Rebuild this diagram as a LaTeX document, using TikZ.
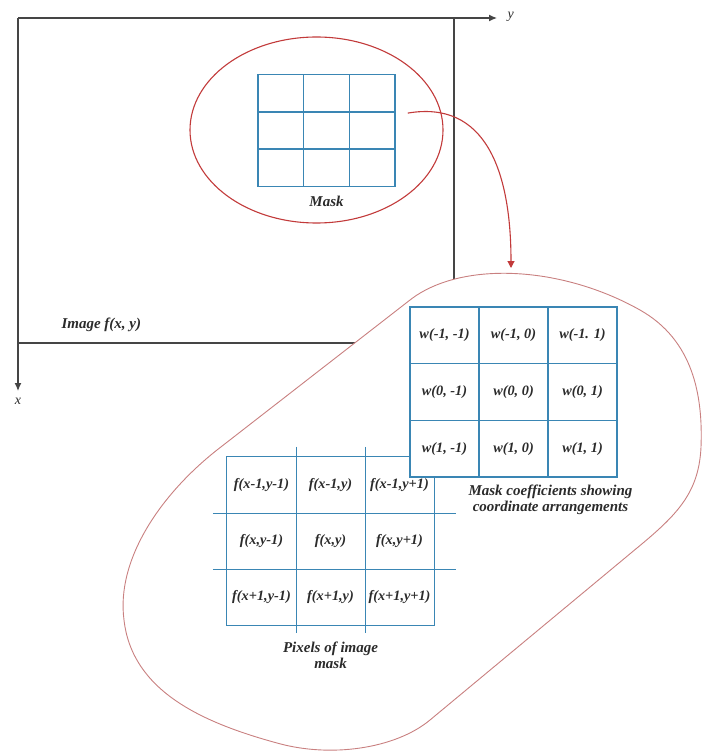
\documentclass[tikz,border=0pt]{standalone}
\usepackage{fontspec}
\setmainfont{Liberation Serif}
\usetikzlibrary{positioning,arrows.meta,shapes.geometric}
\definecolor{mskBlue}{HTML}{3A86B4}
\definecolor{mskRed}{HTML}{C23A3A}
\definecolor{mskZone}{HTML}{C98080}
\definecolor{mskAxis}{HTML}{454545}
\definecolor{mskText}{HTML}{2B2B2B}
\tikzset{
  axisline/.style={draw=mskAxis, line width=1.3pt, -{Latex[length=8pt,width=7pt]}},
  frameline/.style={draw=mskAxis, line width=1.3pt},
  lbl/.style={font=\bfseries\itshape\fontsize{15}{16}\selectfont, text=mskText, align=center},
  celltext/.style={font=\bfseries\itshape\fontsize{14.3}{16}\selectfont, text=mskText},
  wcell/.style={draw=mskBlue, line width=1.3pt, fill=white, minimum width=69pt,
                minimum height=56.7pt, inner sep=0pt, celltext},
  fcell/.style={minimum width=69pt, minimum height=56pt, inner sep=0pt, celltext},
  mcell/.style={draw=mskBlue, line width=1.3pt, minimum width=45.7pt,
                minimum height=37.7pt, inner sep=0pt},
  gridline/.style={draw=mskBlue, line width=1.3pt},
  maskzone/.style={draw=mskRed, line width=1.1pt, ellipse},
  zone/.style={draw=mskZone, line width=0.9pt, fill=white},
  link/.style={draw=mskRed, line width=1.1pt, -{Triangle[length=7pt,width=7pt]}},
}
\begin{document}
\begin{tikzpicture}[x=1pt, y=-1pt]
\useasboundingbox (0,0) rectangle (702,751);

\coordinate (origin) at (18,18);
\coordinate (yend) at (497,18);
\coordinate (xend) at (18,391);
\draw[axisline] (origin) -- (yend);
\draw[axisline] (origin) -- (xend);
\node[lbl, anchor=west, font=\itshape\fontsize{14}{15}\selectfont] (ylabel) at (504,17) {y};
\node[lbl, font=\itshape\fontsize{14}{15}\selectfont] (xlabel) at (18,401) {x};

\draw[frameline] (454,18) -- (454,310);
\draw[frameline] (18,343) -- (390,343);
\node[lbl, anchor=west] (imglabel) at (58,325) {Image f(x, y)};

\node[maskzone, minimum width=253pt, minimum height=186pt] (maskzone) at (316.5,130) {};
\foreach \r in {1,2,3} {
  \foreach \c in {1,2,3} {
    \node[mcell] (m\r\c) at ({258+45.7*(\c-0.5)}, {75+37.2*(\r-0.5)}) {};
  }
}
\node[lbl, below=5pt of m32] (masklabel) {Mask};

\draw[zone] (410,300) .. controls (460,261) and (560,265) .. (640,310)
  .. controls (693,340) and (703,395) .. (701,447)
  .. controls (699,490) and (680,512) .. (643,543)
  -- (430,720)
  .. controls (395,749) and (330,758) .. (277,743)
  .. controls (200,722) and (132,690) .. (124,620)
  .. controls (116,560) and (160,495) .. (217,450)
  -- cycle;

\coordinate (zonetop) at (511,268);
\draw[link] ([xshift=12pt]m13.south east) .. controls (485,100) and (511,170) .. (zonetop);

\foreach \r/\c/\txt in {1/1/{f(x-1,y-1)}, 1/2/{f(x-1,y)}, 1/3/{f(x-1,y+1)},
                        2/1/{f(x,y-1)},   2/2/{f(x,y)},   2/3/{f(x,y+1)},
                        3/1/{f(x+1,y-1)}, 3/2/{f(x+1,y)}, 3/3/{f(x+1,y+1)}} {
  \node[fcell] (f\r\c) at ({227+69*(\c-0.5)}, {457+56*(\r-0.5)}) {\txt};
}
\draw[gridline] (f11.north west) rectangle (f33.south east);
\draw[gridline, shorten <=-10pt, shorten >=-8pt] (f11.north east) -- (f31.south east);
\draw[gridline, shorten <=-10pt, shorten >=-8pt] (f12.north east) -- (f32.south east);
\draw[gridline, shorten <=-14pt, shorten >=-22pt] (f11.south west) -- (f13.south east);
\draw[gridline, shorten <=-14pt, shorten >=-22pt] (f21.south west) -- (f23.south east);
\node[lbl, below=13pt of f32] (pixlabel) {Pixels of image\\mask};

\foreach \r/\c/\txt in {1/1/{w(-1, -1)}, 1/2/{w(-1, 0)}, 1/3/{w(-1. 1)},
                        2/1/{w(0, -1)},  2/2/{w(0, 0)},  2/3/{w(0, 1)},
                        3/1/{w(1, -1)},  3/2/{w(1, 0)},  3/3/{w(1, 1)}} {
  \node[wcell] (w\r\c) at ({410+69*(\c-0.5)}, {307+56.7*(\r-0.5)}) {\txt};
}
\node[lbl, below=4pt of w32, xshift=37pt] (coeflabel) {Mask coefficients showing\\coordinate arrangements};

\end{tikzpicture}
\end{document}
